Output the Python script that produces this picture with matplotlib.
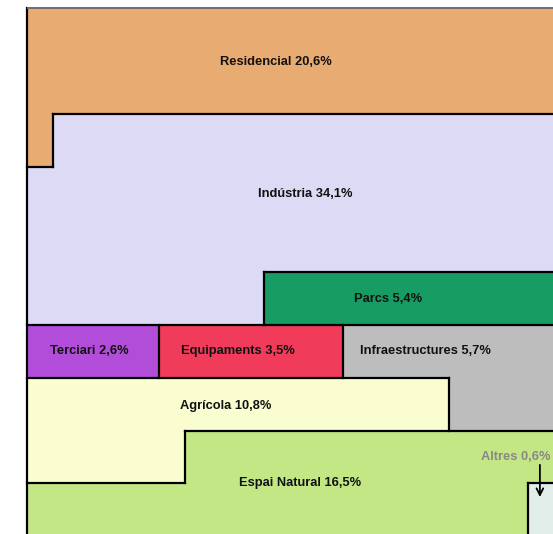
import numpy as np
import matplotlib
matplotlib.use("Agg")
import matplotlib.pyplot as plt
from matplotlib.colors import ListedColormap
from matplotlib.collections import LineCollection

# ---- data ----
categories = ["Residencial", "Indústria", "Parcs", "Terciari", "Equipaments",
              "Infraestructures", "Agrícola", "Espai Natural", "Altres"]
percentages = [20.6, 34.1, 5.4, 2.6, 3.5, 5.7, 10.8, 16.5, 0.6]
colors = ["#E8AB72", "#DDDAF6", "#179C63", "#B24DD9", "#F03B5B",
          "#BDBDBD", "#FAFDD0", "#C3E785", "#E2EEEA"]

# ---- layout (grid of 20 x 10 cells, each 0.5%) ----
NCOLS, NROWS = 20, 10
row_dirs = [1, 1, 1, 1, 1, 1, 1, -1, 1, 1]   # fill direction per row
# label anchors in grid units (col, row)
label_pos = [(9.43, 1.01), (10.55, 3.52), (13.69, 5.50), (2.36, 6.50),
             (8.01, 6.50), (15.12, 6.50), (7.56, 7.53), (10.36, 9.00),
             (18.53, 8.51)]

# cell counts by largest remainder
total = NCOLS * NROWS
raw = np.array(percentages) / sum(percentages) * total
counts = np.floor(raw).astype(int)
rem = raw - counts
for i in np.argsort(-rem)[: total - counts.sum()]:
    counts[i] += 1

order = []
for r in range(NROWS):
    cols = range(NCOLS) if row_dirs[r] == 1 else range(NCOLS - 1, -1, -1)
    order += [(r, c) for c in cols]
grid = np.zeros((NROWS, NCOLS), dtype=int)
k = 0
for ci, n in enumerate(counts):
    for _ in range(n):
        r, c = order[k]
        grid[r, c] = ci
        k += 1

fig = plt.figure(figsize=(5.53, 5.34), dpi=100)
W, H = 553, 534
x0, y0, size = 26.6, 8.3, 527.8
ax = fig.add_axes([x0 / W, (H - y0 - size) / H, size / W, size / H])
ax.set_xlim(0, NCOLS)
ax.set_ylim(NROWS, 0)
ax.axis("off")

ax.pcolormesh(np.arange(NCOLS + 1), np.arange(NROWS + 1), grid,
              cmap=ListedColormap(colors), vmin=-0.5, vmax=len(colors) - 0.5,
              shading="flat", antialiased=False, edgecolors="none")

# boundary edges, merged into straight runs
hmask = np.zeros((NROWS + 1, NCOLS), dtype=bool)   # horizontal edge at row line r, col c
vmask = np.zeros((NROWS, NCOLS + 1), dtype=bool)   # vertical edge at col line c, row r
for r in range(NROWS):
    for c in range(NCOLS):
        if c + 1 < NCOLS and grid[r, c] != grid[r, c + 1]:
            vmask[r, c + 1] = True
        if r + 1 < NROWS and grid[r, c] != grid[r + 1, c]:
            hmask[r + 1, c] = True
vmask[:, 0] = True
vmask[:, NCOLS] = True
hmask[NROWS, :] = True

segs = []
for r in range(NROWS + 1):
    c = 0
    while c < NCOLS:
        if hmask[r, c]:
            s = c
            while c < NCOLS and hmask[r, c]:
                c += 1
            segs.append([(s, r), (c, r)])
        else:
            c += 1
for c in range(NCOLS + 1):
    r = 0
    while r < NROWS:
        if vmask[r, c]:
            s = r
            while r < NROWS and vmask[r, c]:
                r += 1
            segs.append([(c, s), (c, r)])
        else:
            r += 1

lc = LineCollection(segs, colors="black", linewidths=1.6, capstyle="projecting")
lc.set_clip_on(False)
ax.add_collection(lc)
ax.plot([0, NCOLS], [0, 0], color="#6e6e6e", lw=1.4, clip_on=False,
        solid_capstyle="butt")

font = dict(family="Liberation Sans", weight="bold", size=9.3)
for i, (name, pct) in enumerate(zip(categories, percentages)):
    txt = f"{name} {str(pct).replace('.', ',')}%"
    x, y = label_pos[i]
    col = "#888888" if name == "Altres" else "#111111"
    ax.text(x, y, txt, ha="center", va="center", color=col, **font)

# arrow to the small "Altres" cell
ax.annotate("", xy=(19.45, 9.26), xytext=(19.45, 8.65),
            arrowprops=dict(arrowstyle="->", color="black", lw=1.3,
                            mutation_scale=12, shrinkA=0, shrinkB=0))

fig.savefig("out.png", dpi=100)
